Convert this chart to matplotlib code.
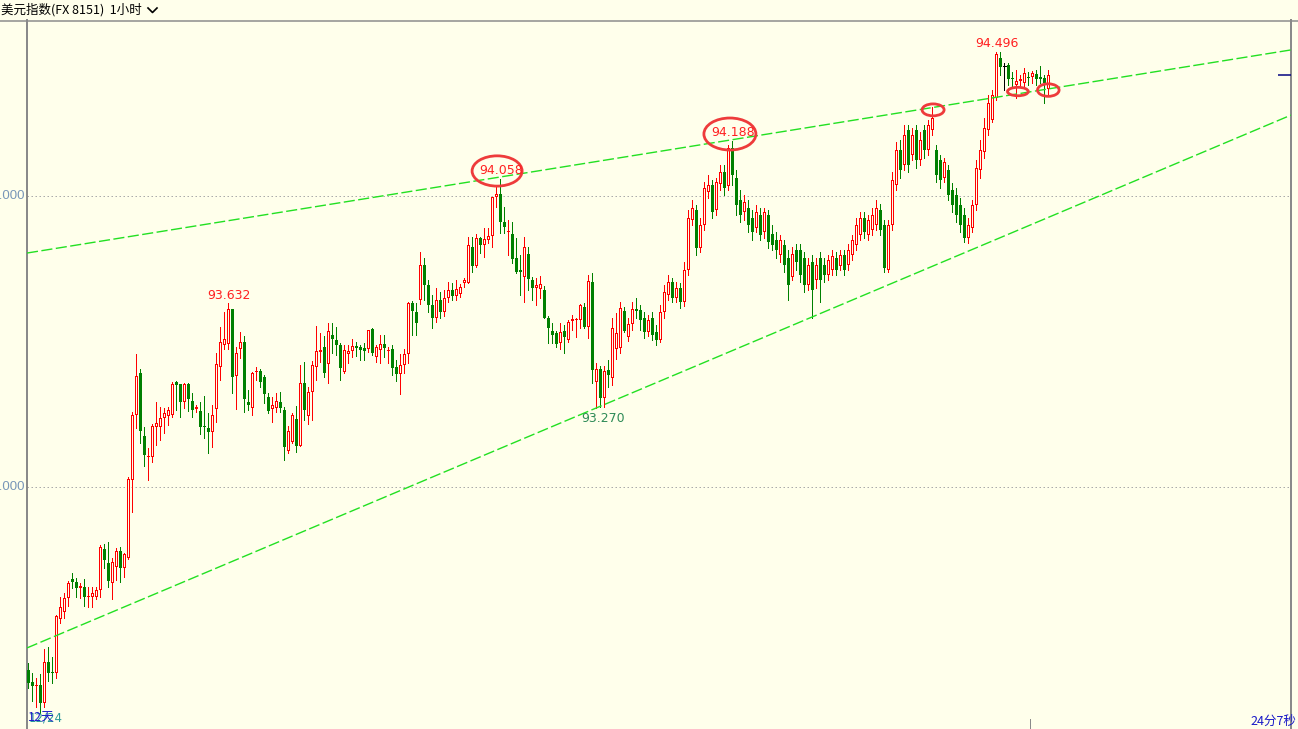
import matplotlib
matplotlib.use("Agg")
import matplotlib.pyplot as plt
from matplotlib.patches import Rectangle, Ellipse
from matplotlib.lines import Line2D

plt.rcParams['font.family'] = ['Noto Sans CJK SC', 'DejaVu Sans']

# ---------------- data (hourly OHLC, US dollar index) ----------------
open_ = [
 92.371,92.330,92.316,92.320,92.258,92.399,92.364,92.361,92.547,92.571,92.619,92.684,92.674,92.653,92.657,92.622,
 92.622,92.622,92.646,92.787,92.739,92.670,92.725,92.780,92.722,92.756,93.024,93.248,93.392,93.175,93.103,93.103,
 93.206,93.206,93.237,93.244,93.248,93.361,93.354,93.292,93.354,93.296,93.268,93.261,93.210,93.203,93.189,93.268,
 93.412,93.488,93.491,93.612,93.382,93.474,93.498,93.292,93.272,93.395,93.399,93.378,93.309,93.268,93.272,93.292,
 93.265,93.124,93.155,93.234,93.141,93.357,93.244,93.327,93.412,93.464,93.481,93.423,93.522,93.505,93.488,93.395,
 93.457,93.467,93.485,93.481,93.478,93.474,93.543,93.447,93.471,93.491,93.467,93.474,93.412,93.388,93.419,93.457,
 93.632,93.601,93.643,93.763,93.694,93.625,93.581,93.643,93.601,93.650,93.677,93.656,93.663,93.701,93.701,93.825,
 93.759,93.856,93.832,93.849,93.863,93.997,94.007,93.911,93.876,93.869,93.787,93.746,93.722,93.801,93.711,93.684,
 93.680,93.677,93.581,93.536,93.529,93.495,93.536,93.505,93.570,93.574,93.574,93.619,93.550,93.704,93.361,93.406,
 93.306,93.402,93.375,93.474,93.478,93.605,93.516,93.560,93.612,93.608,93.581,93.533,93.581,93.533,93.505,93.601,
 93.660,93.704,93.650,93.684,93.636,93.746,93.918,93.952,93.821,93.900,94.014,94.038,93.952,94.041,94.082,94.034,
 94.165,94.062,93.986,93.945,93.959,93.924,93.890,93.935,93.876,93.935,93.869,93.849,93.797,93.832,93.787,93.722,
 93.815,93.815,93.787,93.694,93.773,93.711,93.787,93.763,93.729,93.746,93.787,93.759,93.797,93.763,93.797,93.832,
 93.866,93.924,93.866,93.883,93.900,93.952,93.900,93.746,93.900,94.038,94.158,94.107,94.227,94.141,94.227,94.124,
 94.227,94.158,94.227,94.158,94.124,94.062,94.089,94.021,94.003,93.969,93.935,93.856,93.890,93.969,94.089,94.151,
 94.227,94.261,94.337,94.474,94.447,94.450,94.405,94.381,94.395,94.388,94.409,94.409,94.419,94.409,94.405,94.368,
]
high = [
 92.395,92.361,92.344,92.358,92.444,92.450,92.416,92.560,92.622,92.636,92.677,92.705,92.687,92.670,92.684,92.657,
 92.657,92.657,92.801,92.804,92.811,92.756,92.791,92.794,92.773,93.034,93.258,93.457,93.406,93.206,93.134,93.217,
 93.292,93.275,93.272,93.275,93.361,93.364,93.354,93.358,93.358,93.323,93.282,93.292,93.313,93.254,93.282,93.461,
 93.550,93.601,93.632,93.612,93.481,93.533,93.519,93.333,93.395,93.412,93.406,93.385,93.323,93.309,93.323,93.327,
 93.275,93.210,93.254,93.278,93.419,93.430,93.344,93.433,93.553,93.529,93.519,93.564,93.564,93.550,93.495,93.488,
 93.488,93.509,93.498,93.488,93.495,93.540,93.546,93.488,93.522,93.522,93.481,93.488,93.436,93.457,93.474,93.636,
 93.639,93.632,93.808,93.787,93.711,93.660,93.684,93.670,93.677,93.704,93.701,93.711,93.698,93.718,93.859,93.859,
 93.869,93.859,93.890,93.890,93.997,94.031,94.058,93.962,93.918,93.911,93.856,93.797,93.859,93.825,93.722,93.718,
 93.725,93.691,93.588,93.564,93.536,93.564,93.557,93.574,93.591,93.581,93.629,93.632,93.729,93.735,93.426,93.416,
 93.416,93.436,93.581,93.598,93.636,93.619,93.581,93.636,93.650,93.625,93.601,93.591,93.601,93.557,93.625,93.694,
 93.729,93.718,93.704,93.701,93.773,93.952,93.986,93.969,93.924,94.048,94.072,94.055,94.062,94.107,94.107,94.175,
 94.188,94.089,94.021,94.003,93.986,93.952,93.969,93.959,93.959,93.952,93.900,93.876,93.866,93.849,93.814,93.825,
 93.835,93.835,93.808,93.787,93.797,93.787,93.808,93.787,93.797,93.814,93.808,93.814,93.814,93.835,93.866,93.924,
 93.945,93.945,93.935,93.959,93.986,93.973,93.918,93.918,94.082,94.186,94.193,94.244,94.244,94.234,94.244,94.220,
 94.244,94.261,94.306,94.175,94.141,94.131,94.107,94.045,94.027,93.993,93.959,93.924,93.986,94.124,94.193,94.268,
 94.347,94.364,94.496,94.494,94.457,94.457,94.426,94.433,94.416,94.440,94.426,94.430,94.433,94.447,94.416,94.433,
]
low = [
 92.310,92.265,92.244,92.224,92.244,92.334,92.327,92.344,92.533,92.550,92.591,92.653,92.622,92.619,92.591,92.588,
 92.588,92.615,92.622,92.722,92.657,92.615,92.681,92.674,92.691,92.753,92.914,93.203,93.151,93.072,93.024,93.086,
 93.144,93.162,93.186,93.213,93.241,93.265,93.241,93.272,93.261,93.241,93.258,93.182,93.168,93.117,93.138,93.223,
 93.368,93.474,93.474,93.323,93.268,93.443,93.258,93.265,93.248,93.368,93.344,93.289,93.254,93.223,93.258,93.258,
 93.093,93.117,93.151,93.120,93.141,93.230,93.217,93.230,93.368,93.430,93.378,93.357,93.461,93.454,93.368,93.392,
 93.426,93.447,93.450,93.436,93.436,93.464,93.454,93.430,93.426,93.447,93.426,93.385,93.364,93.320,93.392,93.426,
 93.522,93.522,93.629,93.643,93.601,93.546,93.567,93.581,93.588,93.636,93.643,93.643,93.653,93.687,93.701,93.739,
 93.756,93.804,93.790,93.839,93.825,93.962,93.873,93.873,93.797,93.770,93.735,93.660,93.636,93.677,93.643,93.625,
 93.650,93.581,93.495,93.495,93.481,93.474,93.461,93.498,93.540,93.516,93.546,93.546,93.512,93.357,93.270,93.275,
 93.275,93.344,93.351,93.440,93.461,93.533,93.502,93.540,93.581,93.540,93.512,93.519,93.505,93.488,93.498,93.581,
 93.643,93.636,93.636,93.615,93.622,93.729,93.900,93.797,93.808,93.883,93.993,93.924,93.935,94.021,94.003,94.021,
 94.038,93.935,93.911,93.918,93.876,93.849,93.876,93.849,93.856,93.821,93.814,93.787,93.773,93.739,93.643,93.711,
 93.746,93.704,93.670,93.677,93.581,93.684,93.636,93.704,93.711,93.729,93.729,93.746,93.729,93.746,93.780,93.814,
 93.849,93.856,93.849,93.866,93.883,93.866,93.739,93.739,93.883,94.021,94.062,94.089,94.082,94.124,94.096,94.107,
 94.131,94.141,94.210,94.048,94.027,94.048,93.986,93.945,93.911,93.876,93.842,93.839,93.876,93.952,94.062,94.131,
 94.210,94.254,94.330,94.416,94.364,94.381,94.375,94.337,94.375,94.375,94.381,94.388,94.381,94.388,94.320,94.347,
]
close = [
 92.327,92.316,92.320,92.258,92.399,92.361,92.361,92.557,92.588,92.619,92.670,92.674,92.653,92.660,92.622,92.626,
 92.636,92.646,92.794,92.749,92.677,92.742,92.780,92.722,92.770,93.028,93.248,93.382,93.193,93.110,93.107,93.210,
 93.220,93.237,93.254,93.265,93.354,93.351,93.292,93.354,93.302,93.265,93.275,93.206,93.206,93.189,93.248,93.423,
 93.498,93.509,93.612,93.378,93.461,93.498,93.302,93.282,93.392,93.399,93.361,93.320,93.261,93.282,93.296,93.272,
 93.138,93.193,93.248,93.141,93.357,93.265,93.327,93.419,93.467,93.471,93.392,93.536,93.509,93.488,93.409,93.471,
 93.467,93.485,93.478,93.471,93.467,93.540,93.461,93.481,93.491,93.478,93.471,93.409,93.388,93.419,93.457,93.632,
 93.605,93.564,93.763,93.694,93.625,93.581,93.643,93.601,93.650,93.677,93.656,93.680,93.687,93.711,93.832,93.759,
 93.856,93.832,93.853,93.863,93.997,94.007,93.911,93.893,93.880,93.784,93.739,93.739,93.825,93.715,93.684,93.694,
 93.698,93.581,93.546,93.522,93.491,93.533,93.516,93.567,93.577,93.577,93.625,93.550,93.708,93.402,93.406,93.306,
 93.399,93.385,93.546,93.529,93.615,93.536,93.560,93.612,93.605,93.574,93.533,93.574,93.522,93.505,93.601,93.670,
 93.704,93.650,93.684,93.636,93.746,93.924,93.959,93.821,93.900,94.027,94.038,93.945,94.048,94.082,94.027,94.165,
 94.072,93.969,93.935,93.979,93.900,93.876,93.945,93.866,93.945,93.842,93.832,93.814,93.849,93.763,93.694,93.801,
 93.773,93.729,93.694,93.763,93.677,93.763,93.711,93.729,93.780,93.794,93.746,93.797,93.746,93.814,93.849,93.900,
 93.924,93.876,93.918,93.935,93.959,93.883,93.753,93.900,94.055,94.158,94.089,94.210,94.107,94.210,94.124,94.193,
 94.158,94.244,94.268,94.072,94.055,94.117,94.003,93.969,93.935,93.900,93.856,93.900,93.969,94.096,94.158,94.234,
 94.320,94.347,94.488,94.443,94.447,94.402,94.402,94.395,94.402,94.423,94.405,94.423,94.402,94.402,94.388,94.416,
]

grid_levels = [94.0, 93.0]
grid_labels = ["94.000", "93.000"]

# annotated extremes: (candle index, price text, colour, vertical pixel offset of text centre)
peak_labels = [
    (118, "94.058", "#FF2020", 9),
    (176, "94.188", "#FF2020", 9),
    (50,  "93.632", "#FF2020", 8),
    (242, "94.496", "#FF2020", 8),
]
trough_labels = [(142, "93.270", "#2E8B57", -10)]

# hand-drawn circles: (centre index, centre price, width in candles, height in price)
circles = [
    (117.2, 94.086, 12.5, 0.104),
    (175.4, 94.213, 13.0, 0.110),
    (226.2, 94.296, 5.5, 0.041),
    (247.4, 94.359, 5.2, 0.029),
    (255.0, 94.364, 5.4, 0.043),
]

# drawn trend lines: ((x0, price0), (x1, price1)) in candle-index units
upper_trend = ((-0.325, 93.804), (315.675, 94.502))
lower_trend = ((-0.325, 92.447), (315.675, 94.278))

last_price = close[-1]

# ---------------- figure ----------------
W, H = 1298, 729
BG = "#FFFFEB"
PX = 72 / 100  # one pixel in points
fig = plt.figure(figsize=(W / 100, H / 100), dpi=100, facecolor=BG)

ax_left, ax_right, ax_top = 27, 1291, 20
ax = fig.add_axes([ax_left / W, 0, (ax_right - ax_left) / W, (H - ax_top) / H])
ax.set_facecolor(BG)

xmin, xmax = -0.325, 315.675
ymin = 94 - (729 - 196) / 291
ymax = 94 + (196 - 20) / 291
ax.set_xlim(xmin, xmax)
ax.set_ylim(ymin, ymax)
ax.set_xticks([])
ax.set_yticks([])
for s in ["top", "bottom"]:
    ax.spines[s].set_visible(False)
for s in ["left", "right"]:
    ax.spines[s].set_color("#8A8A8A")
    ax.spines[s].set_linewidth(2 * PX)

# grid + y labels (clipped at left edge as in the source)
for lvl, lab in zip(grid_levels, grid_labels):
    ax.axhline(lvl, color="#ABABAB", lw=PX, ls=(0, (1.5, 2.5)), zorder=1)
    ax.text(-0.002, lvl, lab, transform=ax.get_yaxis_transform(), ha="right",
            va="center", fontsize=9.5, color="#7896B8", family="Liberation Sans")

# candles: 3-pixel bodies (0.75 candle units), 1-pixel wicks/outlines
RED, GREEN = "#FF0000", "#008000"
hw = 0.375
inner = 0.125
px_price = (ymax - ymin) / (H - ax_top)  # one pixel expressed in price units
for i, (o, h, l, c) in enumerate(zip(open_, high, low, close)):
    if c > o:
        ax.vlines(i, l, h, color=RED, lw=PX, zorder=3, antialiased=False)
        ax.add_patch(Rectangle((i - hw, o), 2 * hw, c - o, facecolor=RED, lw=0,
                               zorder=4, antialiased=False))
        if c - o > 2.2 * px_price:
            ax.add_patch(Rectangle((i - inner, o + px_price), 2 * inner, c - o - 2 * px_price,
                                   facecolor=BG, lw=0, zorder=5, antialiased=False))
    elif c < o:
        ax.vlines(i, l, h, color=GREEN, lw=PX, zorder=3, antialiased=False)
        ax.add_patch(Rectangle((i - hw, c), 2 * hw, max(o - c, px_price), facecolor=GREEN,
                               lw=0, zorder=4, antialiased=False))
    else:
        ax.vlines(i, l, h, color="black", lw=PX, zorder=3, antialiased=False)
        ax.hlines(o, i - hw, i + hw, color="black", lw=PX, zorder=4, antialiased=False)

# trend lines
for (x0, p0), (x1, p1) in (upper_trend, lower_trend):
    ax.plot([x0, x1], [p0, p1], color="#22E022", lw=1.0, ls=(0, (8, 2.5)), zorder=6)

# circles
for cx, cy, w, hgt in circles:
    ax.add_patch(Ellipse((cx, cy), w, hgt, fill=False, edgecolor="#EE3B3B",
                         lw=2.0, zorder=7))

# extreme labels
for idx, txt, col, off in peak_labels:
    ax.annotate(txt, (idx, high[idx]), xytext=(1, off), textcoords="offset pixels",
                ha="center", va="center", fontsize=9, color=col, family="DejaVu Sans", zorder=8)
for idx, txt, col, off in trough_labels:
    ax.annotate(txt, (idx, low[idx]), xytext=(7, off), textcoords="offset pixels",
                ha="center", va="center", fontsize=9, color=col, family="DejaVu Sans", zorder=8)

# last price marker at right edge
ax.hlines(last_price, 312.5, xmax, color="#000080", lw=1.5 * PX, zorder=6)

# bottom time labels
ax.text(0.0, 0.006, "12/24", transform=ax.get_xaxis_transform(), fontsize=8.5,
        color="#2A9A9A", ha="left", va="bottom", family="DejaVu Sans")
ax.text(0.0, 0.006, "12天", transform=ax.get_xaxis_transform(), fontsize=9,
        color="#1A1AC8", ha="left", va="bottom")
fig.text(1296 / W, 1 - 721 / H, "24分7秒", fontsize=9, color="#1A1AC8",
         ha="right", va="center")
fig.add_artist(Line2D([1030 / W, 1030 / W], [0, 10 / H], color="#8A8A8A", lw=PX))

# header
fig.add_artist(Line2D([0, 1], [1 - 20.5 / H, 1 - 20.5 / H], color="#8A8A8A", lw=1.5 * PX))
fig.text(1 / W, 1 - 10 / H, "美元指数(FX 8151)  1小时", fontsize=9.0, color="black",
         ha="left", va="center")
fig.add_artist(Line2D([148 / W, 152.5 / W, 157 / W], [1 - 8 / H, 1 - 12.5 / H, 1 - 8 / H],
                      color="black", lw=1.2))

fig.savefig("out.png", dpi=100, facecolor=BG)
